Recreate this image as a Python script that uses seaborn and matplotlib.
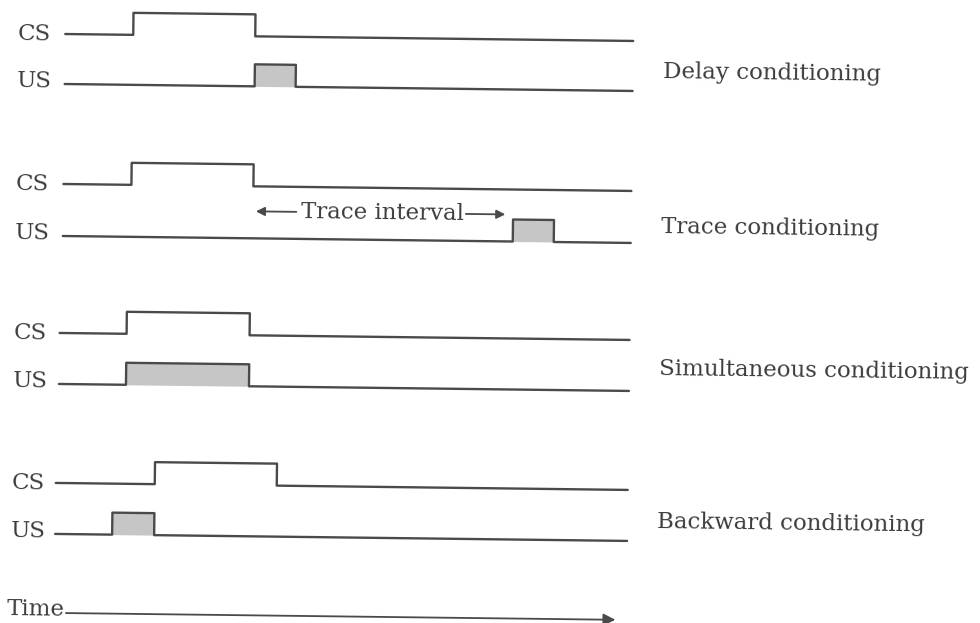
import numpy as np
import pandas as pd
import matplotlib
matplotlib.use("Agg")
import matplotlib.pyplot as plt
import seaborn as sns
from matplotlib.transforms import Affine2D
from matplotlib.patches import FancyArrowPatch

# ---------------- data (time units along the trace) ----------------
paradigms = ["Delay conditioning", "Trace conditioning",
             "Simultaneous conditioning", "Backward conditioning"]
trace_start = [62, 62, 60, 58]
trace_end = [630, 630, 630, 630]
cs_on = [130, 130, 127, 157]
cs_off = [252, 252, 250, 279]
us_on = [252, 512, 127, 115]
us_off = [293, 553, 250, 157]
signals = ["CS", "US"]
trace_interval = (252, 507)
time_axis = (67, 622)

# ---------------- layout ----------------
row_cs = [34, 184, 333, 483]
row_us = [84, 236, 384, 534]
label_y = [66, 221, 364, 516]
amp = 22
line_col = "#4a4a4a"
text_col = "#3c3c3c"
fill_col = "#c6c6c6"

sns.set_style("white")
plt.rcParams["font.family"] = ["DejaVu Serif"]

fig = plt.figure(figsize=(9.8, 6.23), dpi=100)
ax = fig.add_axes([0, 0, 1, 1])

rows = []
for i, name in enumerate(paradigms):
    for sig, on, off, base in (("CS", cs_on[i], cs_off[i], row_cs[i]),
                               ("US", us_on[i], us_off[i], row_us[i])):
        xs = [trace_start[i], on, on, off, off, trace_end[i]]
        ys = [base, base, base - amp, base - amp, base, base]
        for k, (x, y) in enumerate(zip(xs, ys)):
            rows.append({"trace": f"{name}-{sig}", "t": x, "level": y, "order": k})
df = pd.DataFrame(rows)

for i in range(len(paradigms)):
    ax.fill_between([us_on[i], us_off[i]], row_us[i], row_us[i] - amp,
                    color=fill_col, lw=0, zorder=1)

sns.lineplot(data=df, x="t", y="level", units="trace", estimator=None,
             sort=False, color=line_col, lw=1.7, ax=ax, zorder=2, legend=False)

fs = 16.5
for i, name in enumerate(paradigms):
    ax.text(14, row_cs[i] + 1, "CS", fontsize=fs, color=text_col, va="center", ha="left")
    ax.text(14, row_us[i] - 2, "US", fontsize=fs, color=text_col, va="center", ha="left")
    ax.text(660, label_y[i], name, fontsize=fs,
            color=text_col, va="center", ha="left")

# Trace interval annotation
ty = 209
ax.text(381, ty, "Trace interval", fontsize=fs, color=text_col, va="center", ha="center")
ax.add_patch(FancyArrowPatch((298, ty), (trace_interval[0], ty), arrowstyle="-|>",
                             mutation_scale=13, color=line_col, lw=1.3))
ax.add_patch(FancyArrowPatch((462, ty), (trace_interval[1], ty), arrowstyle="-|>",
                             mutation_scale=13, color=line_col, lw=1.3))

# Time axis
ax.text(10, 610, "Time", fontsize=fs, color=text_col, va="center", ha="left")
ax.add_patch(FancyArrowPatch((time_axis[0], 613), (time_axis[1], 613), arrowstyle="-|>",
                             mutation_scale=18, color=line_col, lw=1.3))

ax.set_xlim(0, 980)
ax.set_ylim(623, 0)
ax.axis("off")

# slight scan tilt
px, py = ax.transData.transform((62, 300))
rot = Affine2D().rotate_deg_around(px, py, -0.7)
for art in list(ax.lines) + list(ax.collections) + list(ax.patches) + list(ax.texts):
    art.set_transform(art.get_transform() + rot)
for t in ax.texts:
    t.set_rotation(-0.7)

fig.savefig("out.png", dpi=100, facecolor="white")
